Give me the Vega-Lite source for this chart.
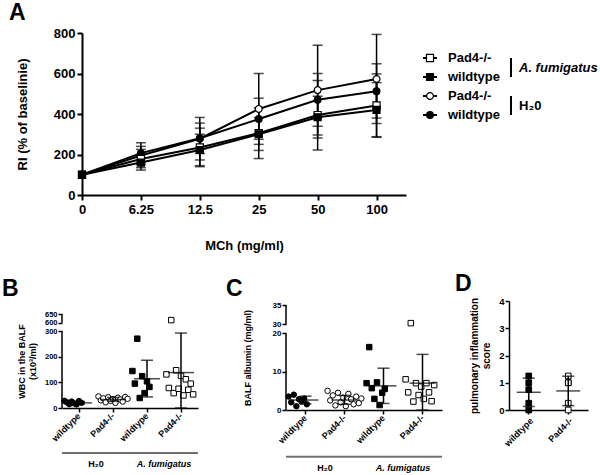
{
  "$schema": "https://vega.github.io/schema/vega-lite/v6.json",
  "padding": {"left": 2, "top": 2, "right": 0, "bottom": 0},
  "config": {
    "font": "Liberation Sans",
    "view": {"stroke": null},
    "axis": {"grid": false, "labelOverlap": false, "labelFont": "Liberation Sans", "titleFont": "Liberation Sans", "labelFontWeight": "bold", "titleFontWeight": "bold", "labelColor": "#000", "titleColor": "#000", "domainColor": "#000", "tickColor": "#000"},
    "title": {"font": "Liberation Sans", "fontWeight": "bold", "fontSize": 23, "color": "#000", "anchor": "start", "frame": "group", "offset": 2}
  },
  "datasets": {
    "ri": [
      {"dose": "0", "series": "Pad4 H2O", "mean": 100, "lo": null, "hi": null},
      {"dose": "6.25", "series": "Pad4 H2O", "mean": 195, "lo": 150, "hi": 240},
      {"dose": "12.5", "series": "Pad4 H2O", "mean": 278, "lo": 173, "hi": 383},
      {"dose": "25", "series": "Pad4 H2O", "mean": 425, "lo": 250, "hi": 600},
      {"dose": "50", "series": "Pad4 H2O", "mean": 518, "lo": 296, "hi": 740},
      {"dose": "100", "series": "Pad4 H2O", "mean": 573, "lo": 353, "hi": 793},
      {"dose": "0", "series": "wt H2O", "mean": 100, "lo": null, "hi": null},
      {"dose": "6.25", "series": "wt H2O", "mean": 207, "lo": 160, "hi": 258},
      {"dose": "12.5", "series": "wt H2O", "mean": 280, "lo": 205, "hi": 355},
      {"dose": "25", "series": "wt H2O", "mean": 375, "lo": 275, "hi": 478},
      {"dose": "50", "series": "wt H2O", "mean": 470, "lo": 340, "hi": 600},
      {"dose": "100", "series": "wt H2O", "mean": 512, "lo": 380, "hi": 648},
      {"dose": "0", "series": "Pad4 Af", "mean": 100, "lo": null, "hi": null},
      {"dose": "6.25", "series": "Pad4 Af", "mean": 178, "lo": 135, "hi": 225},
      {"dose": "12.5", "series": "Pad4 Af", "mean": 235, "lo": 140, "hi": 330},
      {"dose": "25", "series": "Pad4 Af", "mean": 305, "lo": 180, "hi": 430},
      {"dose": "50", "series": "Pad4 Af", "mean": 395, "lo": 222, "hi": 565},
      {"dose": "100", "series": "Pad4 Af", "mean": 442, "lo": 288, "hi": 598},
      {"dose": "0", "series": "wt Af", "mean": 100, "lo": null, "hi": null},
      {"dose": "6.25", "series": "wt Af", "mean": 160, "lo": 123, "hi": 200},
      {"dose": "12.5", "series": "wt Af", "mean": 222, "lo": 145, "hi": 300},
      {"dose": "25", "series": "wt Af", "mean": 300, "lo": 220, "hi": 382},
      {"dose": "50", "series": "wt Af", "mean": 384, "lo": 282, "hi": 488},
      {"dose": "100", "series": "wt Af", "mean": 420, "lo": 285, "hi": 555}
    ],
    "leg": [
      {"row": 1, "series": "Pad4 Af", "label": "Pad4-/-", "group": "A. fumigatus"},
      {"row": 2, "series": "wt Af", "label": "wildtype", "group": "A. fumigatus"},
      {"row": 3, "series": "Pad4 H2O", "label": "Pad4-/-", "group": "H₂0"},
      {"row": 4, "series": "wt H2O", "label": "wildtype", "group": "H₂0"}
    ],
    "grp": [
      {"grp": "H₂0", "from": "wt_h", "to": "pad_h"},
      {"grp": "A. fumigatus", "from": "wt_a", "to": "pad_a"}
    ],
    "axB": [{"a": 0, "b": 300}, {"a": 600, "b": 650}],
    "axC": [{"a": 0, "b": 20}, {"a": 30, "b": 35}],
    "wbc": [
      {"g": "wt_h", "m": 1, "v": 28}, {"g": "wt_h", "m": 2, "v": 22}, {"g": "wt_h", "m": 3, "v": 15}, {"g": "wt_h", "m": 4, "v": 25},
      {"g": "wt_h", "m": 5, "v": 18}, {"g": "wt_h", "m": 6, "v": 14}, {"g": "wt_h", "m": 7, "v": 27}, {"g": "wt_h", "m": 8, "v": 20},
      {"g": "pad_h", "m": 1, "v": 45}, {"g": "pad_h", "m": 2, "v": 30}, {"g": "pad_h", "m": 3, "v": 38}, {"g": "pad_h", "m": 4, "v": 22},
      {"g": "pad_h", "m": 5, "v": 42}, {"g": "pad_h", "m": 6, "v": 28}, {"g": "pad_h", "m": 7, "v": 35}, {"g": "pad_h", "m": 8, "v": 20},
      {"g": "pad_h", "m": 9, "v": 40}, {"g": "pad_h", "m": 10, "v": 33}, {"g": "pad_h", "m": 11, "v": 25}, {"g": "pad_h", "m": 12, "v": 43},
      {"g": "pad_h", "m": 13, "v": 36},
      {"g": "wt_a", "m": 1, "v": 144}, {"g": "wt_a", "m": 2, "v": 95}, {"g": "wt_a", "m": 3, "v": 270}, {"g": "wt_a", "m": 4, "v": 39},
      {"g": "wt_a", "m": 5, "v": 124}, {"g": "wt_a", "m": 6, "v": 58}, {"g": "wt_a", "m": 7, "v": 104}, {"g": "wt_a", "m": 8, "v": 82},
      {"g": "pad_a", "m": 1, "v": 131}, {"g": "pad_a", "m": 2, "v": 78}, {"g": "pad_a", "m": 3, "v": 615}, {"g": "pad_a", "m": 4, "v": 58},
      {"g": "pad_a", "m": 5, "v": 147}, {"g": "pad_a", "m": 6, "v": 75}, {"g": "pad_a", "m": 7, "v": 125}, {"g": "pad_a", "m": 8, "v": 49},
      {"g": "pad_a", "m": 9, "v": 112}, {"g": "pad_a", "m": 10, "v": 71}, {"g": "pad_a", "m": 11, "v": 95}, {"g": "pad_a", "m": 12, "v": 53}
    ],
    "wbcSum": [
      {"g": "wt_h", "mean": 20, "lo": 15, "hi": 25},
      {"g": "pad_h", "mean": 33, "lo": 26, "hi": 41},
      {"g": "wt_a", "mean": 114, "lo": 43, "hi": 186},
      {"g": "pad_a", "mean": 138, "lo": 0, "hi": 292}
    ],
    "alb": [
      {"g": "wt_h", "m": 1, "v": 3.5}, {"g": "wt_h", "m": 2, "v": 2.0}, {"g": "wt_h", "m": 3, "v": 4.0}, {"g": "wt_h", "m": 4, "v": 1.0},
      {"g": "wt_h", "m": 5, "v": 2.8}, {"g": "wt_h", "m": 6, "v": 2.2}, {"g": "wt_h", "m": 7, "v": 3.0}, {"g": "wt_h", "m": 8, "v": 1.5},
      {"g": "pad_h", "m": 1, "v": 5.0}, {"g": "pad_h", "m": 2, "v": 2.5}, {"g": "pad_h", "m": 3, "v": 3.8}, {"g": "pad_h", "m": 4, "v": 1.2},
      {"g": "pad_h", "m": 5, "v": 4.5}, {"g": "pad_h", "m": 6, "v": 2.0}, {"g": "pad_h", "m": 7, "v": 3.2}, {"g": "pad_h", "m": 8, "v": 1.0},
      {"g": "pad_h", "m": 9, "v": 4.2}, {"g": "pad_h", "m": 10, "v": 2.8}, {"g": "pad_h", "m": 11, "v": 1.5}, {"g": "pad_h", "m": 12, "v": 3.5},
      {"g": "pad_h", "m": 13, "v": 1.8}, {"g": "pad_h", "m": 14, "v": 3.0},
      {"g": "wt_a", "m": 1, "v": 7.0}, {"g": "wt_a", "m": 2, "v": 16.4}, {"g": "wt_a", "m": 3, "v": 5.7}, {"g": "wt_a", "m": 4, "v": 2.9},
      {"g": "wt_a", "m": 5, "v": 7.2}, {"g": "wt_a", "m": 6, "v": 1.3}, {"g": "wt_a", "m": 7, "v": 4.5}, {"g": "wt_a", "m": 8, "v": 5.5},
      {"g": "pad_a", "m": 1, "v": 8.0}, {"g": "pad_a", "m": 2, "v": 4.6}, {"g": "pad_a", "m": 3, "v": 30.3}, {"g": "pad_a", "m": 4, "v": 2.2},
      {"g": "pad_a", "m": 5, "v": 7.0}, {"g": "pad_a", "m": 6, "v": 3.9}, {"g": "pad_a", "m": 7, "v": 6.1}, {"g": "pad_a", "m": 8, "v": 2.9},
      {"g": "pad_a", "m": 9, "v": 7.0}, {"g": "pad_a", "m": 10, "v": 4.6}, {"g": "pad_a", "m": 11, "v": 2.3}, {"g": "pad_a", "m": 12, "v": 6.5}
    ],
    "albSum": [
      {"g": "wt_h", "mean": 2.6, "lo": 1.6, "hi": 3.6},
      {"g": "pad_h", "mean": 2.6, "lo": 1.5, "hi": 3.8},
      {"g": "wt_a", "mean": 6.3, "lo": 1.7, "hi": 10.9},
      {"g": "pad_a", "mean": 7.0, "lo": 0, "hi": 14.5}
    ],
    "inf": [
      {"g": "wt", "v": 1.25}, {"g": "wt", "v": 0.25}, {"g": "wt", "v": 1.0}, {"g": "wt", "v": 0}, {"g": "wt", "v": 0.75},
      {"g": "pad", "v": 1.25}, {"g": "pad", "v": 0}, {"g": "pad", "v": 1.0}, {"g": "pad", "v": 0.25}, {"g": "pad", "v": 1.0}
    ],
    "infSum": [
      {"g": "wt", "mean": 0.65, "lo": 0.13, "hi": 1.17},
      {"g": "pad", "mean": 0.7, "lo": 0.16, "hi": 1.24}
    ]
  },
  "columns": 3,
  "align": "each",
  "bounds": "flush",
  "spacing": {"row": 106, "column": 67},
  "resolve": {"scale": {"shape": "independent", "fill": "independent", "size": "independent", "xOffset": "independent"}},
  "concat": [
    {
      "width": 157, "height": 162,
      "title": {"text": "A", "dx": -53},
      "data": {"name": "ri"},
      "encoding": {
        "x": {"field": "dose", "type": "ordinal",
          "scale": {"type": "point", "domain": ["0", "6.25", "12.5", "25", "50", "100"], "range": [20, 344], "padding": 0.25, "align": 0},
          "axis": {"title": "MCh (mg/ml)", "labelAngle": 0, "labelFontSize": 13, "titleFontSize": 13, "tickSize": 5, "tickWidth": 2, "domainWidth": 2, "labelPadding": 3, "titlePadding": 23}}
      },
      "layer": [
        {"mark": {"type": "rule", "color": "black", "strokeWidth": 1.5},
         "encoding": {
           "y": {"field": "lo", "type": "quantitative", "scale": {"domain": [0, 800], "nice": false},
             "axis": {"values": [0, 200, 400, 600, 800], "tickCount": 10, "title": "RI (% of baselinie)", "labelFontSize": 13, "titleFontSize": 13, "tickSize": 5, "tickWidth": 2, "domainWidth": 2, "labelPadding": 2, "titlePadding": 24, "offset": -20}},
           "y2": {"field": "hi"}}},
        {"mark": {"type": "tick", "orient": "horizontal", "color": "black", "size": 10, "thickness": 1.5},
         "encoding": {"y": {"field": "lo", "type": "quantitative"}}},
        {"mark": {"type": "tick", "orient": "horizontal", "color": "black", "size": 10, "thickness": 1.5},
         "encoding": {"y": {"field": "hi", "type": "quantitative"}}},
        {"mark": {"type": "line", "color": "black", "strokeWidth": 2},
         "encoding": {"y": {"field": "mean", "type": "quantitative"}, "detail": {"field": "series"}}},
        {"mark": {"type": "point", "filled": true, "stroke": "black", "strokeWidth": 1.2, "opacity": 1},
         "encoding": {
           "y": {"field": "mean", "type": "quantitative"},
           "shape": {"field": "series", "type": "nominal", "scale": {"domain": ["Pad4 Af", "wt Af", "Pad4 H2O", "wt H2O"], "range": ["square", "square", "circle", "circle"]}, "legend": null},
           "fill": {"field": "series", "type": "nominal", "scale": {"domain": ["Pad4 Af", "wt Af", "Pad4 H2O", "wt H2O"], "range": ["white", "black", "white", "black"]}, "legend": null},
           "size": {"field": "series", "type": "ordinal", "scale": {"domain": ["Pad4 Af", "wt Af", "Pad4 H2O", "wt H2O"], "range": [50, 45, 50, 22]}, "legend": null}}}
      ]
    },
    {
      "width": 156, "height": 162,
      "data": {"name": "leg"},
      "layer": [
        {"mark": {"type": "rule", "color": "black", "strokeWidth": 2},
         "encoding": {
           "x": {"datum": 0, "type": "quantitative", "scale": {"domain": [-137, 19], "nice": false, "zero": false}, "axis": null},
           "x2": {"datum": 14},
           "y": {"field": "row", "type": "quantitative", "scale": {"domain": [-0.316, 8.21], "reverse": true, "nice": false, "zero": false}, "axis": null}}},
        {"mark": {"type": "point", "filled": true, "stroke": "black", "strokeWidth": 1.2, "opacity": 1},
         "encoding": {
           "x": {"datum": 7, "type": "quantitative"},
           "y": {"field": "row", "type": "quantitative"},
           "shape": {"field": "series", "type": "nominal", "scale": {"domain": ["Pad4 Af", "wt Af", "Pad4 H2O", "wt H2O"], "range": ["square", "square", "circle", "circle"]}, "legend": null},
           "fill": {"field": "series", "type": "nominal", "scale": {"domain": ["Pad4 Af", "wt Af", "Pad4 H2O", "wt H2O"], "range": ["white", "black", "white", "black"]}, "legend": null},
           "size": {"field": "series", "type": "ordinal", "scale": {"domain": ["Pad4 Af", "wt Af", "Pad4 H2O", "wt H2O"], "range": [50, 45, 50, 22]}, "legend": null}}},
        {"mark": {"type": "text", "align": "left", "baseline": "middle", "fontSize": 13, "fontWeight": "bold", "color": "black"},
         "encoding": {"x": {"datum": 25, "type": "quantitative"}, "y": {"field": "row", "type": "quantitative"}, "text": {"field": "label"}}},
        {"transform": [{"aggregate": [{"op": "min", "field": "row", "as": "r0"}, {"op": "max", "field": "row", "as": "r1"}], "groupby": ["group"]}],
         "mark": {"type": "rule", "color": "black", "strokeWidth": 2},
         "encoding": {"x": {"datum": 88, "type": "quantitative"}, "y": {"field": "r0", "type": "quantitative"}, "y2": {"field": "r1"}}},
        {"transform": [{"filter": "datum.group == 'A. fumigatus'"}, {"aggregate": [{"op": "mean", "field": "row", "as": "rm"}], "groupby": ["group"]}],
         "mark": {"type": "text", "align": "left", "baseline": "middle", "fontSize": 13, "fontWeight": "bold", "fontStyle": "italic", "color": "black"},
         "encoding": {"x": {"datum": 96, "type": "quantitative"}, "y": {"field": "rm", "type": "quantitative"}, "text": {"field": "group"}}},
        {"transform": [{"filter": "datum.group != 'A. fumigatus'"}, {"aggregate": [{"op": "mean", "field": "row", "as": "rm"}], "groupby": ["group"]}],
         "mark": {"type": "text", "align": "left", "baseline": "middle", "fontSize": 13, "fontWeight": "bold", "color": "black"},
         "encoding": {"x": {"datum": 96, "type": "quantitative"}, "y": {"field": "rm", "type": "quantitative"}, "text": {"field": "group"}}}
      ]
    },
    {
      "width": 1, "height": 162,
      "data": {"values": [{"k": 1}]},
      "mark": {"type": "text"},
      "encoding": {"text": {"value": ""}}
    },
    {
      "width": 157, "height": 107,
      "title": {"text": "B", "dx": -60, "offset": 0},
      "layer": [
        {"data": {"name": "axB"}, "mark": {"type": "rule", "color": "black", "strokeWidth": 1.5},
         "encoding": {"x": {"datum": "wt_h", "type": "nominal", "bandPosition": 0}, "y": {"field": "a", "type": "quantitative"}, "y2": {"field": "b"}}},
        {"data": {"name": "grp"}, "mark": {"type": "rule", "color": "#707070", "strokeWidth": 2},
         "encoding": {"x": {"field": "from", "type": "nominal", "bandPosition": 0}, "x2": {"field": "to", "bandPosition": 1}, "y": {"datum": -175, "type": "quantitative"}}},
        {"data": {"name": "grp"}, "transform": [{"filter": "datum.grp != 'A. fumigatus'"}],
         "mark": {"type": "text", "fontSize": 9, "fontWeight": "bold", "baseline": "middle", "color": "black"},
         "encoding": {"x": {"field": "to", "type": "nominal", "bandPosition": 0}, "y": {"datum": -218, "type": "quantitative"}, "text": {"field": "grp"}}},
        {"data": {"name": "grp"}, "transform": [{"filter": "datum.grp == 'A. fumigatus'"}],
         "mark": {"type": "text", "fontSize": 9, "fontWeight": "bold", "fontStyle": "italic", "baseline": "middle", "color": "black"},
         "encoding": {"x": {"field": "to", "type": "nominal", "bandPosition": 0}, "y": {"datum": -218, "type": "quantitative"}, "text": {"field": "grp"}}},
        {"data": {"name": "wbc"}, "mark": {"type": "point", "filled": true, "stroke": "black", "strokeWidth": 1, "opacity": 1, "size": 30},
         "encoding": {
           "x": {"field": "g", "type": "nominal",
             "scale": {"domain": ["wt_h", "pad_h", "wt_a", "pad_a"], "range": [0, 136], "paddingInner": 0, "paddingOuter": 0},
             "axis": {"title": null, "labelAngle": -45, "labelFontSize": 9, "labelPadding": 2, "tickSize": 4, "tickWidth": 1.5, "domainWidth": 1.5, "labelExpr": "indexof(datum.value, 'wt') == 0 ? 'wildtype' : 'Pad4-/-'"}},
           "xOffset": {"field": "m", "type": "ordinal", "scale": {"paddingOuter": 2.5, "paddingInner": 0}},
           "y": {"field": "v", "type": "quantitative",
             "scale": {"domain": [0, 300, 600, 650], "range": [107, 30, 21.7, 13], "nice": false, "zero": false},
             "axis": {"values": [0, 100, 200, 300, 600, 650], "tickCount": 20, "domain": false, "title": ["WBC in the BALF", "(x10³/ml)"], "titleFontSize": 9, "labelFontSize": 7.5, "tickSize": 4, "tickWidth": 1.5, "labelPadding": 1, "titlePadding": 7, "labelOverlap": false}},
           "shape": {"field": "g", "type": "nominal", "scale": {"domain": ["wt_h", "pad_h", "wt_a", "pad_a"], "range": ["circle", "circle", "square", "square"]}, "legend": null},
           "fill": {"field": "g", "type": "nominal", "scale": {"domain": ["wt_h", "pad_h", "wt_a", "pad_a"], "range": ["black", "white", "black", "white"]}, "legend": null}}},
        {"data": {"name": "wbcSum"}, "mark": {"type": "rule", "color": "black", "strokeWidth": 1.5},
         "encoding": {"x": {"field": "g", "type": "nominal"}, "y": {"field": "lo", "type": "quantitative"}, "y2": {"field": "hi"}}},
        {"data": {"name": "wbcSum"}, "mark": {"type": "tick", "orient": "horizontal", "color": "black", "size": 26, "thickness": 1.5},
         "encoding": {"x": {"field": "g", "type": "nominal"}, "y": {"field": "mean", "type": "quantitative"}}},
        {"data": {"name": "wbcSum"}, "mark": {"type": "tick", "orient": "horizontal", "color": "black", "size": 12, "thickness": 1.5},
         "encoding": {"x": {"field": "g", "type": "nominal"}, "y": {"field": "lo", "type": "quantitative"}}},
        {"data": {"name": "wbcSum"}, "mark": {"type": "tick", "orient": "horizontal", "color": "black", "size": 12, "thickness": 1.5},
         "encoding": {"x": {"field": "g", "type": "nominal"}, "y": {"field": "hi", "type": "quantitative"}}}
      ]
    },
    {
      "width": 156, "height": 109,
      "title": {"text": "C", "dx": -60, "offset": 0},
      "layer": [
        {"data": {"name": "axC"}, "mark": {"type": "rule", "color": "black", "strokeWidth": 1.5},
         "encoding": {"x": {"datum": "wt_h", "type": "nominal", "bandPosition": 0}, "y": {"field": "a", "type": "quantitative"}, "y2": {"field": "b"}}},
        {"data": {"name": "grp"}, "mark": {"type": "rule", "color": "#707070", "strokeWidth": 2},
         "encoding": {"x": {"field": "from", "type": "nominal", "bandPosition": 0}, "x2": {"field": "to", "bandPosition": 1}, "y": {"datum": -12.2, "type": "quantitative"}}},
        {"data": {"name": "grp"}, "transform": [{"filter": "datum.grp != 'A. fumigatus'"}],
         "mark": {"type": "text", "fontSize": 9, "fontWeight": "bold", "baseline": "middle", "color": "black"},
         "encoding": {"x": {"field": "to", "type": "nominal", "bandPosition": 0}, "y": {"datum": -15.1, "type": "quantitative"}, "text": {"field": "grp"}}},
        {"data": {"name": "grp"}, "transform": [{"filter": "datum.grp == 'A. fumigatus'"}],
         "mark": {"type": "text", "fontSize": 9, "fontWeight": "bold", "fontStyle": "italic", "baseline": "middle", "color": "black"},
         "encoding": {"x": {"field": "to", "type": "nominal", "bandPosition": 0}, "y": {"datum": -15.1, "type": "quantitative"}, "text": {"field": "grp"}}},
        {"data": {"name": "alb"}, "mark": {"type": "point", "filled": true, "stroke": "black", "strokeWidth": 1, "opacity": 1, "size": 30},
         "encoding": {
           "x": {"field": "g", "type": "nominal",
             "scale": {"domain": ["wt_h", "pad_h", "wt_a", "pad_a"], "range": [0, 156], "paddingInner": 0, "paddingOuter": 0},
             "axis": {"title": null, "labelAngle": -45, "labelFontSize": 9, "labelPadding": 2, "tickSize": 4, "tickWidth": 1.5, "domainWidth": 1.5, "labelExpr": "indexof(datum.value, 'wt') == 0 ? 'wildtype' : 'Pad4-/-'"}},
           "xOffset": {"field": "m", "type": "ordinal", "scale": {"paddingOuter": 4.5, "paddingInner": 0}},
           "y": {"field": "v", "type": "quantitative",
             "scale": {"domain": [0, 20, 30, 35], "range": [109, 32.3, 23.3, 4], "nice": false, "zero": false},
             "axis": {"values": [0, 10, 20, 30, 35], "tickCount": 20, "domain": false, "title": "BALF albumin (mg/ml)", "titleFontSize": 9, "labelFontSize": 8, "tickSize": 4, "tickWidth": 1.5, "labelPadding": 1, "titlePadding": 20, "labelOverlap": false}},
           "shape": {"field": "g", "type": "nominal", "scale": {"domain": ["wt_h", "pad_h", "wt_a", "pad_a"], "range": ["circle", "circle", "square", "square"]}, "legend": null},
           "fill": {"field": "g", "type": "nominal", "scale": {"domain": ["wt_h", "pad_h", "wt_a", "pad_a"], "range": ["black", "white", "black", "white"]}, "legend": null}}},
        {"data": {"name": "albSum"}, "mark": {"type": "rule", "color": "black", "strokeWidth": 1.5},
         "encoding": {"x": {"field": "g", "type": "nominal"}, "y": {"field": "lo", "type": "quantitative"}, "y2": {"field": "hi"}}},
        {"data": {"name": "albSum"}, "mark": {"type": "tick", "orient": "horizontal", "color": "black", "size": 26, "thickness": 1.5},
         "encoding": {"x": {"field": "g", "type": "nominal"}, "y": {"field": "mean", "type": "quantitative"}}},
        {"data": {"name": "albSum"}, "mark": {"type": "tick", "orient": "horizontal", "color": "black", "size": 12, "thickness": 1.5},
         "encoding": {"x": {"field": "g", "type": "nominal"}, "y": {"field": "lo", "type": "quantitative"}}},
        {"data": {"name": "albSum"}, "mark": {"type": "tick", "orient": "horizontal", "color": "black", "size": 12, "thickness": 1.5},
         "encoding": {"x": {"field": "g", "type": "nominal"}, "y": {"field": "hi", "type": "quantitative"}}}
      ]
    },
    {
      "width": 79, "height": 109,
      "title": {"text": "D", "dx": -54, "offset": 0},
      "layer": [
        {"data": {"name": "inf"}, "mark": {"type": "point", "filled": true, "stroke": "black", "strokeWidth": 1, "opacity": 1, "size": 32},
         "encoding": {
           "x": {"field": "g", "type": "nominal",
             "scale": {"domain": ["wt", "pad"], "range": [0, 79], "paddingInner": 0, "paddingOuter": 0},
             "axis": {"title": null, "labelAngle": -45, "labelFontSize": 9, "labelPadding": 2, "tickSize": 4, "tickWidth": 1.5, "domainWidth": 1.5, "labelExpr": "indexof(datum.value, 'wt') == 0 ? 'wildtype' : 'Pad4-/-'"}},
           "y": {"field": "v", "type": "quantitative",
             "scale": {"domain": [0, 4], "nice": false, "zero": false},
             "axis": {"values": [0, 1, 2, 3, 4], "format": "d", "tickCount": 20, "domainWidth": 1.5, "title": ["pulmonary inflammation", "score"], "titleFontSize": 10, "labelFontSize": 9.5, "tickSize": 4, "tickWidth": 1.5, "labelPadding": 1, "titlePadding": 7, "labelOverlap": false}},
           "fill": {"field": "g", "type": "nominal", "scale": {"domain": ["wt", "pad"], "range": ["black", "white"]}, "legend": null},
           "shape": {"value": "square"}}},
        {"data": {"name": "infSum"}, "mark": {"type": "rule", "color": "black", "strokeWidth": 1.5},
         "encoding": {"x": {"field": "g", "type": "nominal"}, "y": {"field": "lo", "type": "quantitative"}, "y2": {"field": "hi"}}},
        {"data": {"name": "infSum"}, "mark": {"type": "tick", "orient": "horizontal", "color": "black", "size": 24, "thickness": 1.5},
         "encoding": {"x": {"field": "g", "type": "nominal"}, "y": {"field": "mean", "type": "quantitative"}}},
        {"data": {"name": "infSum"}, "mark": {"type": "tick", "orient": "horizontal", "color": "black", "size": 12, "thickness": 1.5},
         "encoding": {"x": {"field": "g", "type": "nominal"}, "y": {"field": "lo", "type": "quantitative"}}},
        {"data": {"name": "infSum"}, "mark": {"type": "tick", "orient": "horizontal", "color": "black", "size": 12, "thickness": 1.5},
         "encoding": {"x": {"field": "g", "type": "nominal"}, "y": {"field": "hi", "type": "quantitative"}}}
      ]
    }
  ]
}
